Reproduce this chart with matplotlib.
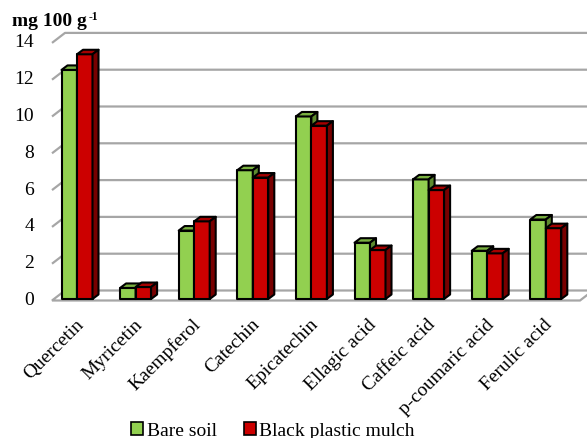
import numpy as np
import matplotlib
matplotlib.use('Agg')
import matplotlib.pyplot as plt
from matplotlib.patches import Polygon, Patch

plt.rcParams['font.family'] = ['Liberation Serif', 'DejaVu Serif']

# data
compounds = ['Quercetin', 'Myricetin', 'Kaempferol', 'Catechin', 'Epicatechin',
             'Ellagic acid', 'Caffeic acid', 'p-coumaric acid', 'Ferulic acid']
bare_soil = [12.45, 0.6, 3.72, 7.0, 9.92, 3.06, 6.5, 2.62, 4.32]
black_mulch = [13.3, 0.65, 4.22, 6.6, 9.42, 2.66, 5.92, 2.48, 3.85]
yticks = [0, 2, 4, 6, 8, 10, 12, 14]

# pixel scales of the fake 3d view
SX = 58.6   # px per category
SY = 18.4   # px per unit
W, H = 587, 438

fig = plt.figure(figsize=(W / 100, H / 100), dpi=100)
ax = fig.add_axes([0, 0, 1, 1])
x_left = -77 / SX
y_bot = -139 / SY
ax.set_xlim(x_left, x_left + W / SX)
ax.set_ylim(y_bot, y_bot + H / SY)
ax.axis('off')

# wall / floor geometry (data units)
wall_x = -25 / SX
floor_y = -1.5 / SY
back_dx, back_dy = 13 / SX, 10 / SY
floor_right = 503 / SX
grid_col = '#a6a6a6'

# floor
ax.add_patch(Polygon([(wall_x, floor_y), (floor_right, floor_y),
                      (floor_right + back_dx, floor_y + back_dy),
                      (wall_x + back_dx, floor_y + back_dy)],
                     closed=True, facecolor='white', edgecolor=grid_col, lw=1.6, zorder=1))
# gridlines on back wall
for v in yticks[1:]:
    y0 = floor_y + v
    ax.plot([wall_x, wall_x + back_dx, 9.5], [y0, y0 + back_dy, y0 + back_dy],
            color=grid_col, lw=1.6, zorder=1, solid_capstyle='butt')
    ax.text(-43 / SX, y0, str(v), ha='right', va='center', fontsize=14)
ax.text(-43 / SX, floor_y, '0', ha='right', va='center', fontsize=14)

# bars
bw = 15.5 / SX
dx, dy = 6 / SX, 4.5 / SY
styles = [('#92d050', '#79b040', '#5d8a2e'), ('#cc0000', '#a50000', '#780000')]


def bar3d(x0, h, cols, z):
    front, top, side = cols
    kw = dict(closed=True, edgecolor='black', lw=1.5, joinstyle='round', zorder=z)
    ax.add_patch(Polygon([(x0, 0), (x0 + bw, 0), (x0 + bw, h), (x0, h)], facecolor=front, **kw))
    ax.add_patch(Polygon([(x0, h), (x0 + bw, h), (x0 + bw + dx, h + dy), (x0 + dx, h + dy)],
                         facecolor=top, **kw))
    ax.add_patch(Polygon([(x0 + bw, 0), (x0 + bw + dx, dy), (x0 + bw + dx, h + dy), (x0 + bw, h)],
                         facecolor=side, **kw))


for i in range(len(compounds)):
    bar3d(i - bw, bare_soil[i], styles[0], 3 + 2 * i)
    bar3d(i, black_mulch[i], styles[1], 4 + 2 * i)
    ax.text(i + 10 / SX, -17 / SY, compounds[i], rotation=45, ha='right', va='top', fontsize=14)

# unit label with superscript
t = fig.text(12 / W, 1 - 21 / H, 'mg 100 g', fontsize=14, fontweight='bold',
             ha='left', va='center')
ax.annotate('-1', xy=(1, 0.5), xycoords=t, xytext=(1, 0.5), textcoords='offset points',
            ha='left', va='baseline', fontsize=8.5, fontweight='bold')

handles = [Patch(facecolor='#92d050', edgecolor='black', lw=1.2, label='Bare soil'),
           Patch(facecolor='#cc0000', edgecolor='black', lw=1.2, label='Black plastic mulch')]
fig.legend(handles=handles, loc='center', bbox_to_anchor=(273 / W, 7 / H), ncol=2,
           frameon=False, fontsize=14, handlelength=0.6, handleheight=0.6,
           handletextpad=0.2, columnspacing=1.4, borderpad=0)

fig.savefig('out.png', dpi=100)
